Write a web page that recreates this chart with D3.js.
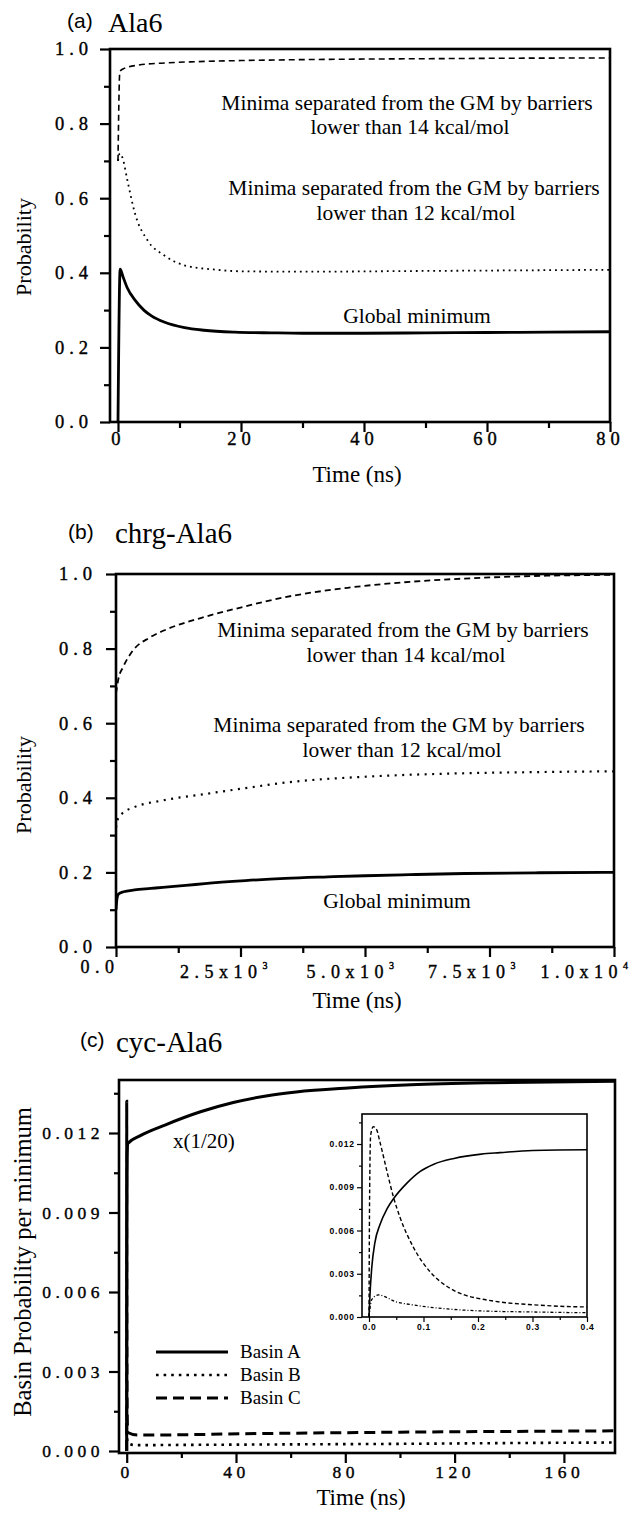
<!DOCTYPE html>
<html><head><meta charset="utf-8">
<script src="https://cdn.jsdelivr.net/npm/d3@7/dist/d3.min.js"></script>
<style>
body{margin:0;background:#fff;}
svg{display:block;background:#fff;}
</style></head><body>
<svg id="chart" width="640" height="1513"></svg>
<script>
// ---------------- DATA ----------------
// Panel (a) Ala6 : time (ns) and probabilities
const aTimeGM   = [0, 0.35, 0.8, 1.5, 2.8, 4.2, 5.5, 7.5, 10.8, 14, 19, 25, 30, 40, 50, 60, 70, 80];
const aGM       = [0, 0.41, 0.39, 0.36, 0.326, 0.300, 0.284, 0.268, 0.253, 0.246, 0.241, 0.239, 0.238, 0.238, 0.239, 0.240, 0.241, 0.242];
const aTime12   = [0, 0.3, 0.8, 1.5, 2.8, 4.8, 7.5, 10.8, 15.5, 20, 30, 50, 80];
const aBar12    = [0.70, 0.72, 0.705, 0.65, 0.557, 0.487, 0.447, 0.42, 0.409, 0.404, 0.403, 0.405, 0.408];
const aTime14   = [0, 0.3, 1, 3.4, 7, 12.8, 20, 27.5, 40, 50, 60, 80];
const aBar14    = [0.70, 0.94, 0.948, 0.957, 0.962, 0.966, 0.969, 0.971, 0.973, 0.974, 0.975, 0.976];
const aXTicks = [0, 20, 40, 60, 80];
const aXMinor = [10, 30, 50, 70];
const abYTicks = [0, 0.2, 0.4, 0.6, 0.8, 1.0];
const abYMinor = [0.1, 0.3, 0.5, 0.7, 0.9];

// Panel (b) chrg-Ala6
const bTimeGM = [0, 20, 50, 150, 371, 700, 940, 1400, 1782, 2599, 3400, 4257, 5000, 5891, 7000, 8500, 10000];
const bGM     = [0.10, 0.13, 0.142, 0.148, 0.153, 0.157, 0.160, 0.165, 0.170, 0.178, 0.184, 0.188, 0.191, 0.194, 0.197, 0.199, 0.200];
const bTime12 = [0, 30, 124, 371, 940, 1782, 2599, 3416, 5074, 6733, 8500, 10000];
const bBar12  = [0.32, 0.34, 0.358, 0.375, 0.393, 0.41, 0.426, 0.441, 0.457, 0.465, 0.469, 0.471];
const bTime14 = [0, 50, 141, 341, 683, 1024, 1700, 2500, 3400, 4650, 5900, 7550, 10000];
const bBar14  = [0.68, 0.72, 0.75, 0.795, 0.83, 0.852, 0.882, 0.91, 0.938, 0.963, 0.979, 0.991, 0.998];
const bXTicks = [0, 2500, 5000, 7500, 10000];
const bXMinor = [1250, 3750, 6250, 8750];
const bXLabels = [["0.0", ""], ["2.5x10", "3"], ["5.0x10", "3"], ["7.5x10", "3"], ["1.0x10", "4"]];

// Panel (c) cyc-Ala6 : basin probability per minimum (A shown x 1/20)
const cTimeA = [0, 0.002, 0.005, 0.011, 0.02, 0.033, 0.045, 0.07, 0.094, 0.119, 0.156, 0.206, 0.24, 0.3, 0.4, 5, 14, 27, 39, 51, 62, 81, 104, 134, 179];
const cA     = [0, 0.0017, 0.0034, 0.0052, 0.0064, 0.0075, 0.0082, 0.0093, 0.0101, 0.0106, 0.011, 0.0113, 0.0114, 0.01155, 0.0116, 0.0119, 0.0123, 0.0128, 0.01315, 0.0134, 0.01355, 0.0137, 0.01382, 0.0139, 0.01395];
const cTimeB = [0, 0.005, 0.017, 0.051, 0.082, 0.144, 0.206, 0.3, 0.4, 3, 20, 60, 100, 140, 179];
const cB     = [0, 0.0012, 0.00153, 0.00104, 0.00083, 0.00056, 0.00042, 0.00035, 0.0003, 0.00022, 0.00023, 0.00025, 0.00027, 0.0003, 0.00032];
const cTimeC = [0, 0.001, 0.003, 0.008, 0.014, 0.02, 0.033, 0.045, 0.057, 0.082, 0.113, 0.144, 0.175, 0.206, 0.24, 0.3, 0.4, 4, 50, 100, 179];
const cC     = [0, 0.0078, 0.0126, 0.0132, 0.013, 0.01215, 0.0101, 0.0083, 0.0069, 0.0048, 0.0031, 0.0021, 0.00153, 0.00125, 0.00104, 0.00085, 0.0007, 0.0006, 0.00066, 0.00071, 0.00076];
const cXTicks = [0, 40, 80, 120, 160];
const cXMinor = [20, 60, 100, 140];
const cYTicks = [0, 0.003, 0.006, 0.009, 0.012];
const cYMinor = [0.0015, 0.0045, 0.0075, 0.0105, 0.0135];
const insetXTicks = [0, 0.1, 0.2, 0.3, 0.4];
const insetXMinor = [0.05, 0.15, 0.25, 0.35];
const insetYTicks = [0, 0.003, 0.006, 0.009, 0.012];
const insetYMinor = [0.0015, 0.0045, 0.0075, 0.0105, 0.0135];
const legendNames = ["Basin A", "Basin B", "Basin C"];

// ---------------- DRAW ----------------
const svg = d3.select("#chart");
const SERIF = "'Liberation Serif','Times New Roman',serif";
const SANS = "'Liberation Sans',Arial,sans-serif";
const zip = (t, v) => t.map((d, i) => [d, v[i]]);

function axes(g, x, y, o) {
  const bottom = o.bottom, left = o.left;
  g.append("g").attr("transform", `translate(0,${bottom})`)
    .call(d3.axisBottom(x).tickValues(o.xMinor).tickSize(o.minor).tickFormat(""));
  g.append("g").attr("transform", `translate(${left},0)`)
    .call(d3.axisLeft(y).tickValues(o.yMinor).tickSize(o.minor).tickFormat(""));
  const ax = g.append("g").attr("transform", `translate(0,${bottom})`)
    .call(d3.axisBottom(x).tickValues(o.xTicks).tickSize(o.major).tickPadding(o.xPad).tickFormat(o.xFmt || ""));
  const ay = g.append("g").attr("transform", `translate(${left},0)`)
    .call(d3.axisLeft(y).tickValues(o.yTicks).tickSize(o.major).tickPadding(o.yPad).tickFormat(o.yFmt));
  g.selectAll(".domain").remove();
  g.selectAll(".tick line").attr("stroke", "#000").attr("stroke-width", o.tickW);
  [ax, ay].forEach(a => a.selectAll("text")
    .attr("font-family", o.font).attr("font-size", o.fs)
    .attr("font-weight", o.fw || "normal")
    .attr("stroke", "#000").attr("stroke-width", o.sw || 0)
    .style("letter-spacing", o.ls + "px").attr("fill", "#000"));
  return {ax, ay};
}

function frame(g, l, t, r, b, w) {
  g.append("rect").attr("x", l).attr("y", t).attr("width", r - l).attr("height", b - t)
    .attr("fill", "none").attr("stroke", "#000").attr("stroke-width", w);
}

function clip(id, l, t, r, b) {
  svg.append("clipPath").attr("id", id).append("rect")
    .attr("x", l).attr("y", t).attr("width", r - l).attr("height", b - t);
}

function curve(g, x, y, data, w, dash, clipId) {
  g.append("path").datum(data)
    .attr("d", d3.line().x(d => x(d[0])).y(d => y(d[1])).curve(d3.curveMonotoneX))
    .attr("fill", "none").attr("stroke", "#000").attr("stroke-width", w)
    .attr("stroke-dasharray", dash).attr("clip-path", `url(#${clipId})`);
}

function txt(s, x, y, size, family, anchor) {
  return svg.append("text").attr("x", x).attr("y", y).attr("font-size", size)
    .attr("font-family", family).attr("text-anchor", anchor || "start").attr("fill", "#000").text(s);
}

function ylabel(s, x, y, size) {
  svg.append("text").attr("transform", `translate(${x},${y}) rotate(-90)`)
    .attr("text-anchor", "middle").attr("font-size", size).attr("font-family", SERIF)
    .attr("fill", "#000").text(s);
}

// ===== Panel (a) =====
{
  const L = 110, R = 610, T = 49, B = 422;
  const x = d3.scaleLinear().domain([-1.3, 80]).range([L, R]);
  const y = d3.scaleLinear().domain([0, 1]).range([B, T]);
  const g = svg.append("g");
  clip("clipA", L, T, R, B);
  curve(g, x, y, zip(aTime14, aBar14), 1.6, "6,4", "clipA");
  curve(g, x, y, zip(aTime12, aBar12), 1.8, "1.8,4", "clipA");
  curve(g, x, y, zip(aTimeGM, aGM), 2.8, null, "clipA");
  frame(g, L, T, R, B, 2.6);
  axes(g, x, y, {bottom: B, left: L, xTicks: aXTicks, xMinor: aXMinor, yTicks: abYTicks, yMinor: abYMinor,
    major: 10, minor: 6, xPad: 0, yPad: 7, xFmt: d3.format("d"), yFmt: d3.format(".1f"),
    tickW: 2.2, font: SERIF, fs: 18.5, ls: 5, sw: 0.4});
  txt("(a)", 67, 28, 21, SANS);
  txt("Ala6", 108, 32, 28, SERIF);
  ylabel("Probability", 31, 247, 22);
  txt("Time (ns)", 357, 482, 23, SERIF, "middle");
  txt("Minima separated from the GM by barriers", 407, 110, 21.5, SERIF, "middle");
  txt("lower than 14 kcal/mol", 410, 134, 21.5, SERIF, "middle");
  txt("Minima separated from the GM by barriers", 414, 195, 21.5, SERIF, "middle");
  txt("lower than 12 kcal/mol", 416, 220, 21.5, SERIF, "middle");
  txt("Global minimum", 417, 323, 21.5, SERIF, "middle");
}

// ===== Panel (b) =====
{
  const L = 116, R = 614, T = 574, B = 947;
  const x = d3.scaleLinear().domain([0, 10000]).range([L, R]);
  const y = d3.scaleLinear().domain([0, 1]).range([B, T]);
  const g = svg.append("g");
  clip("clipB", L, T, R, B);
  curve(g, x, y, zip(bTime14, bBar14), 1.8, "6,4", "clipB");
  curve(g, x, y, zip(bTime12, bBar12), 2.2, "2,5.5", "clipB");
  curve(g, x, y, zip(bTimeGM, bGM), 2.8, null, "clipB");
  frame(g, L, T, R, B, 2.6);
  axes(g, x, y, {bottom: B, left: L, xTicks: bXTicks, xMinor: bXMinor, yTicks: abYTicks, yMinor: abYMinor,
    major: 10, minor: 6, xPad: 0, yPad: 9, xFmt: "", yFmt: d3.format(".1f"),
    tickW: 2.2, font: SERIF, fs: 18.5, ls: 5, sw: 0.4});
  // x tick labels with superscripts (shifted left of their ticks as in the original)
  const labShift = [-16, -14, -12, -15, -27];
  g.selectAll("text.xl").data(bXTicks).enter().append("text").attr("class", "xl")
    .attr("x", (d, i) => x(d) + labShift[i])
    .attr("y", (d, i) => i === 0 ? B + 26 : B + 31)
    .attr("text-anchor", "middle").attr("font-family", SERIF).attr("font-size", 18)
    .attr("stroke", "#000").attr("stroke-width", 0.4)
    .style("letter-spacing", "5.5px").attr("fill", "#000")
    .each(function (d, i) {
      const t = d3.select(this);
      t.append("tspan").text(bXLabels[i][0]);
      if (bXLabels[i][1]) t.append("tspan").attr("dy", -9).attr("font-size", 10).text(bXLabels[i][1]);
    });
  txt("(b)", 68, 539, 21, SANS);
  txt("chrg-Ala6", 115, 543, 29, SERIF);
  ylabel("Probability", 31, 785, 22);
  txt("Time (ns)", 357, 1008, 23, SERIF, "middle");
  txt("Minima separated from the GM by barriers", 403, 637, 21.5, SERIF, "middle");
  txt("lower than 14 kcal/mol", 406, 662, 21.5, SERIF, "middle");
  txt("Minima separated from the GM by barriers", 399, 732, 21.5, SERIF, "middle");
  txt("lower than 12 kcal/mol", 402, 757, 21.5, SERIF, "middle");
  txt("Global minimum", 397, 908, 21.5, SERIF, "middle");
}

// ===== Panel (c) =====
{
  const L = 119, R = 615, T = 1080, B = 1453;
  const x = d3.scaleLinear().domain([0, 40]).range([126.7, 236]);
  const y = d3.scaleLinear().domain([0, 0.012]).range([1451, 1133]);
  const g = svg.append("g");
  clip("clipC", L, T, R, B);
  curve(g, x, y, zip(cTimeC, cC), 3, "11,6", "clipC");
  curve(g, x, y, zip(cTimeB, cB), 2.6, "2.6,5", "clipC");
  curve(g, x, y, zip(cTimeA, cA), 3, null, "clipC");
  frame(g, L, T, R, B, 2.6);
  axes(g, x, y, {bottom: B, left: L, xTicks: cXTicks, xMinor: cXMinor, yTicks: cYTicks, yMinor: cYMinor,
    major: 10, minor: 5, xPad: 3, yPad: 5, xFmt: d3.format("d"), yFmt: d3.format(".3f"),
    tickW: 2.2, font: SERIF, fs: 17.5, ls: 4.5, sw: 0.4});
  txt("(c)", 80, 1047, 21, SANS);
  txt("cyc-Ala6", 116, 1052, 29, SERIF);
  ylabel("Basin Probability per minimum", 31, 1262, 24.5);
  txt("Time (ns)", 361, 1505, 23, SERIF, "middle");
  txt("x(1/20)", 173, 1148, 21, SERIF);

  // legend
  const legStyles = [[3, null], [2.6, "2.6,5"], [3, "11,6"]];
  const legY = d3.scalePoint().domain(legendNames).range([1352, 1398]);
  const lg = g.append("g");
  lg.selectAll("line").data(legendNames).enter().append("line")
    .attr("x1", 156).attr("x2", 228).attr("y1", d => legY(d)).attr("y2", d => legY(d))
    .attr("stroke", "#000").attr("stroke-width", (d, i) => legStyles[i][0])
    .attr("stroke-dasharray", (d, i) => legStyles[i][1]);
  lg.selectAll("text").data(legendNames).enter().append("text")
    .attr("x", 240).attr("y", d => legY(d) + 6).attr("font-family", SERIF).attr("font-size", 19)
    .attr("fill", "#000").text(d => d);

  // inset
  const iL = 362, iR = 587, iT = 1114, iB = 1317;
  const xi = d3.scaleLinear().domain([0, 0.4]).range([369, iR]);
  const yi = d3.scaleLinear().domain([0, 0.012]).range([iB, 1144]);
  const gi = svg.append("g");
  gi.append("rect").attr("x", iL).attr("y", iT).attr("width", iR - iL).attr("height", iB - iT).attr("fill", "#fff");
  clip("clipI", iL, iT, iR, iB);
  curve(gi, xi, yi, zip(cTimeC, cC), 1.4, "4,2.5", "clipI");
  curve(gi, xi, yi, zip(cTimeB, cB), 1.3, "3,2,1,2", "clipI");
  curve(gi, xi, yi, zip(cTimeA, cA), 1.6, null, "clipI");
  frame(gi, iL, iT, iR, iB, 1.6);
  axes(gi, xi, yi, {bottom: iB, left: iL, xTicks: insetXTicks, xMinor: insetXMinor, yTicks: insetYTicks, yMinor: insetYMinor,
    major: 5, minor: 3, xPad: 2, yPad: 2.2, xFmt: d3.format(".1f"), yFmt: d3.format(".3f"),
    tickW: 1.2, font: SANS, fs: 8.5, fw: "bold", ls: 0.8});
}
</script>
</body></html>
